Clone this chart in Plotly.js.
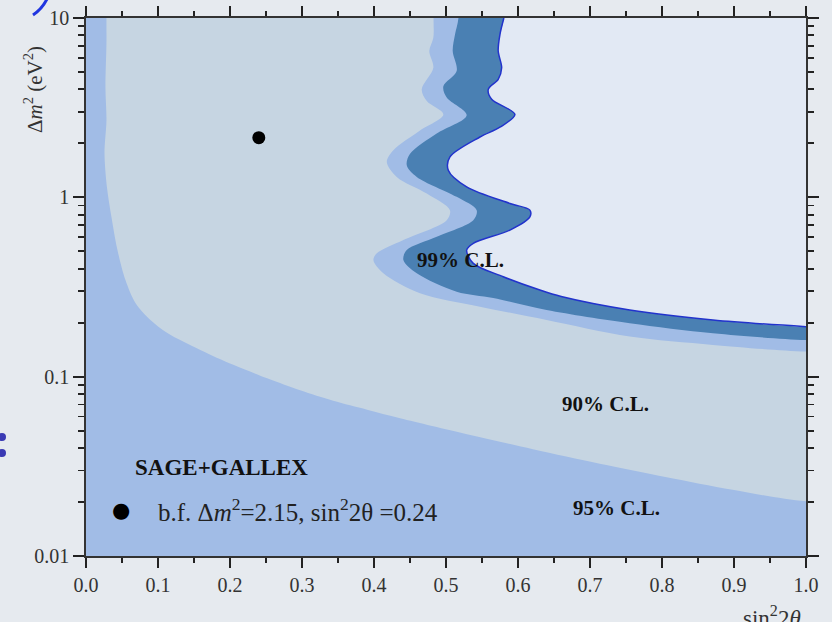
<!DOCTYPE html>
<html><head><meta charset="utf-8">
<script src="https://cdn.plot.ly/plotly-3.0.1.min.js"></script>
<style>html,body{margin:0;padding:0;background:#e6eaef;} #chart{width:832px;height:622px;}</style>
</head><body><div id="chart"></div>
<script>
// ---- boundary of 99% C.L. region (outer edge, with blue outline) ----
const cl99_x = [0.5804,0.5749,0.5725,0.5773,0.5725,0.5587,0.5634,0.5957,0.5749,0.5472,0.5055,0.5032,0.5287,0.5888,0.6165,0.6165,0.5888,0.5379,0.5287,0.5379,0.5795,0.6304,0.66,0.7552,0.8707,1.0];
const cl99_y = [10,8.09,6.54,5.28,4.55,4.00,3.52,2.90,2.46,2.17,1.68,1.417,1.144,0.924,0.848,0.778,0.657,0.554,0.508,0.4285,0.3608,0.304,0.28,0.2355,0.207,0.190];
// ---- boundary of 95% C.L. region ----
const cl95_x = [0.5173,0.5125,0.5093,0.5148,0.4963,0.5010,0.5287,0.4871,0.4501,0.4455,0.4594,0.5148,0.5426,0.5379,0.4871,0.4455,0.4408,0.4594,0.5148,0.5656,0.6397,0.7552,0.8707,1.0];
const cl95_y = [10,8.09,6.54,5.06,4.16,3.60,2.87,2.27,1.75,1.51,1.30,1.006,0.848,0.746,0.603,0.508,0.447,0.377,0.2977,0.2747,0.2355,0.1987,0.1747,0.160];
// ---- 90% C.L. island: right edge and left/lower edge ----
const cl90R_x = [0.4827,0.4824,0.4768,0.4824,0.4663,0.4733,0.4963,0.4639,0.4269,0.4178,0.4316,0.4733,0.5055,0.5010,0.4408,0.4039,0.3992,0.4130,0.4639,0.5472,0.6397,0.7552,0.8707,1.0];
const cl90R_y = [10,7.76,6.54,5.28,4.00,3.44,2.90,2.36,1.83,1.575,1.30,1.05,0.848,0.746,0.578,0.487,0.447,0.377,0.292,0.2457,0.207,0.1673,0.1504,0.138];
const cl90L_x = [0.0284,0.0284,0.0270,0.0284,0.0257,0.0291,0.0354,0.0437,0.0548,0.0687,0.0895,0.1130,0.1588,0.2046,0.2517,0.2975,0.3433,0.3904,0.4362,0.5291,0.6207,0.7136,0.8065,0.8981,1.0];
const cl90L_y = [10,7.21,4.10,2.69,1.76,1.14,0.775,0.508,0.346,0.2576,0.2071,0.1754,0.141,0.1164,0.0979,0.0839,0.0733,0.0654,0.0586,0.0478,0.0394,0.0327,0.0275,0.0234,0.0202];
// ---- best fit ----
const bf_x = [0.24];
const bf_y = [2.15];
// ---- ticks ----
const yTickVals = [0.01, 0.1, 1, 10];
const yTickText = ['0.01', '0.1', '1', '10'];
const yMinorVals = [0.02,0.03,0.04,0.05,0.06,0.07,0.08,0.09,0.2,0.3,0.4,0.5,0.6,0.7,0.8,0.9,2,3,4,5,6,7,8,9];

// off-range extension limits used to close the regions
const XLO = -0.1, XHI = 1.1, YLO = 0.001, YHI = 30;

function closeLowerLeft(xs, ys) {
  const x = [XLO, xs[0]].concat(xs, [XHI, XHI, XLO]);
  const y = [YHI, YHI].concat(ys, [ys[ys.length-1], YLO, YLO]);
  return {x, y};
}
const p99 = closeLowerLeft(cl99_x, cl99_y);
const p95 = closeLowerLeft(cl95_x, cl95_y);
const p90 = {
  x: [cl90L_x[0]].concat(cl90L_x, [XHI, XHI], cl90R_x.slice().reverse(), [cl90R_x[0]]),
  y: [YHI].concat(cl90L_y, [cl90L_y[cl90L_y.length-1], cl90R_y[cl90R_y.length-1]], cl90R_y.slice().reverse(), [YHI])
};

const C_DARK = '#4a80b3', C_MID = '#a1bce6', C_GRAY = '#c6d5e2', C_LIGHT = '#e2e9f4';
const fillTrace = (p, c) => ({x: p.x, y: p.y, mode: 'lines', fill: 'toself', fillcolor: c,
  line: {width: 0, shape: 'spline', smoothing: 0.9, color: c}, hoverinfo: 'skip', type: 'scatter'});

const traces = [
  fillTrace(p99, C_DARK),
  fillTrace(p95, C_MID),
  fillTrace(p90, C_GRAY),
  {x: cl99_x, y: cl99_y, mode: 'lines', line: {color: '#2233cc', width: 1.5, shape: 'spline', smoothing: 0.9}, type: 'scatter'},
  {x: bf_x, y: bf_y, mode: 'markers', marker: {color: '#000', size: 13}, type: 'scatter'}
];

const L = 86, R = 806, T = 18, B = 556;
const px = v => (v - L) / (R - L);
const py = v => (B - v) / (B - T);
const FONT = 'Liberation Serif, Times New Roman, serif';

const ann = [
  {xref:'paper', yref:'paper', x: px(33), y: py(90), text: 'Δ<i>m</i><sup>2</sup> (eV<sup>2</sup>)', textangle: -90,
   showarrow:false, font:{size:21, color:'#333', family: FONT}, xanchor:'center', yanchor:'middle'},
  {xref:'paper', yref:'paper', x: px(772), y: py(600), text: 'sin<sup>2</sup>2<i>θ</i>',
   showarrow:false, font:{size:23, color:'#333', family: FONT}, xanchor:'center', yanchor:'top'},
  {xref:'paper', yref:'paper', x: px(460), y: py(260), text: '<b>99% C.L.</b>', showarrow:false,
   font:{size:21, color:'#111', family: FONT}, xanchor:'center', yanchor:'middle'},
  {xref:'paper', yref:'paper', x: px(605), y: py(404), text: '<b>90% C.L.</b>', showarrow:false,
   font:{size:21, color:'#111', family: FONT}, xanchor:'center', yanchor:'middle'},
  {xref:'paper', yref:'paper', x: px(616), y: py(508), text: '<b>95% C.L.</b>', showarrow:false,
   font:{size:21, color:'#111', family: FONT}, xanchor:'center', yanchor:'middle'},
  {xref:'paper', yref:'paper', x: px(133), y: py(467), text: '<b>SAGE+GALLEX</b>', showarrow:false,
   font:{size:23, color:'#111', family: FONT}, xanchor:'left', yanchor:'middle'},
  {xref:'paper', yref:'paper', x: px(121), y: py(510), text: '●', showarrow:false,
   font:{size:21, color:'#000', family: 'DejaVu Sans'}, xanchor:'center', yanchor:'middle'},
  {xref:'paper', yref:'paper', x: px(156), y: py(510), text: 'b.f. Δ<i>m</i><sup>2</sup>=2.15, sin<sup>2</sup>2θ =0.24', showarrow:false,
   font:{size:25, color:'#222', family: FONT}, xanchor:'left', yanchor:'middle'}
];

const shapes = [
  {type:'circle', xref:'paper', yref:'paper', x0: px(-2), x1: px(6), y0: py(441), y1: py(433), fillcolor:'#3a3ab4', line:{width:0}},
  {type:'circle', xref:'paper', yref:'paper', x0: px(-2), x1: px(6), y0: py(457), y1: py(449), fillcolor:'#3a3ab4', line:{width:0}},
  {type:'path', xref:'paper', yref:'paper',
   path: `M ${px(47)},${py(-1)} Q ${px(42)},${py(9)} ${px(33)},${py(15)}`, line:{color:'#2036e0', width:3}}
];

const axisCommon = {
  ticks:'outside', tickwidth:1.8, tickcolor:'#222', showline:true, linecolor:'#333', linewidth:1.8,
  mirror:'ticks', showgrid:false, zeroline:false, tickfont:{size:20, color:'#333', family: FONT}
};

const layout = {
  width:832, height:622,
  margin:{l:L, r:832-R, t:T, b:622-B, pad:0},
  paper_bgcolor:'#e6eaef', plot_bgcolor: C_LIGHT,
  showlegend:false,
  font:{family: FONT, size:20, color:'#333'},
  xaxis: Object.assign({}, axisCommon, {range:[0,1], tick0:0, dtick:0.1, tickformat:'.1f', ticklen:10,
    minor:{ticks:'outside', ticklen:5, tickwidth:1.8, tickcolor:'#222', dtick:0.05, tick0:0, showgrid:false}}),
  yaxis: Object.assign({}, axisCommon, {type:'log', range:[-2,1], tickmode:'array', tickvals:yTickVals, ticktext:yTickText, ticklen:11,
    minor:{ticks:'outside', ticklen:6, tickwidth:1.8, tickcolor:'#222', tickmode:'array', tickvals:yMinorVals, showgrid:false}}),
  annotations: ann,
  shapes: shapes
};

Plotly.newPlot('chart', traces, layout, {displayModeBar:false, staticPlot:true});
</script>
</body></html>
